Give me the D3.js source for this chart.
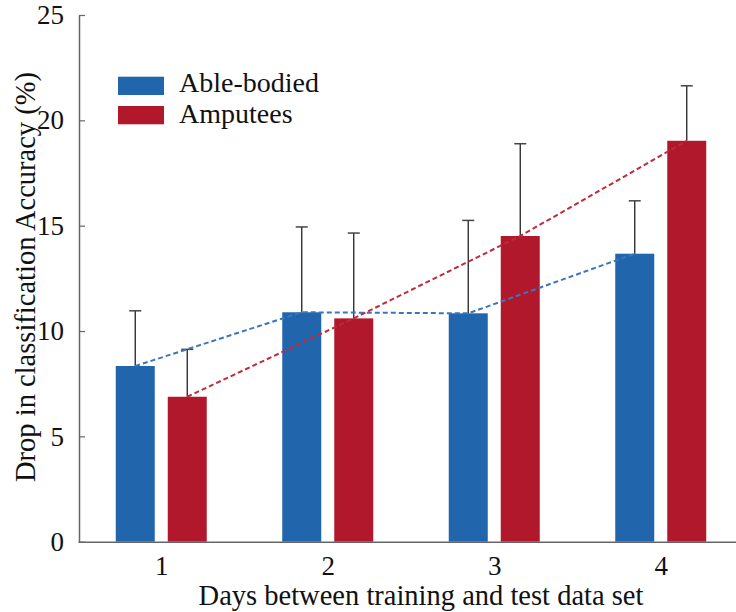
<!DOCTYPE html>
<html><head><meta charset="utf-8">
<script src="https://cdn.jsdelivr.net/npm/d3@7"></script>
<style>body{margin:0;background:#fff;} svg{display:block;} text{font-family:"Liberation Serif","DejaVu Serif",serif;}</style>
</head><body>
<svg id="c" width="736" height="612"></svg>
<script>
const days = [1, 2, 3, 4];
const seriesNames = ["Able-bodied", "Amputees"];
const ableBodied = [8.34, 10.89, 10.84, 13.67];
const ableBodiedErr = [10.96, 14.94, 15.25, 16.18];
const amputees = [6.88, 10.60, 14.51, 19.03];
const amputeesErr = [9.13, 14.65, 18.89, 21.64];
const yTicks = [0, 5, 10, 15, 20, 25];
const colors = ["#2166ac", "#b2182b"];
const lineColors = ["#3a76bd", "#c02a3c"];

const svg = d3.select("#c");
const x = d3.scaleLinear().domain([0.5, 4.5]).range([78, 744]);
const y = d3.scaleLinear().domain([0, 25]).range([541.7, 15]);
const barW = 39, off = 26;

const series = [
  {name: seriesNames[0], vals: ableBodied, err: ableBodiedErr, dx: -off, color: colors[0], lc: lineColors[0]},
  {name: seriesNames[1], vals: amputees, err: amputeesErr, dx: off, color: colors[1], lc: lineColors[1]}
];

series.forEach(s => {
  svg.append("g").selectAll("rect").data(days).join("rect")
    .attr("x", (d,i) => x(d) + s.dx - barW/2)
    .attr("y", (d,i) => y(s.vals[i]))
    .attr("width", barW)
    .attr("height", (d,i) => y(0) - y(s.vals[i]))
    .attr("fill", s.color);
});
series.forEach(s => {
  const g = svg.append("g");
  days.forEach((d,i) => {
    const cx = x(d) + s.dx;
    g.append("line").attr("x1", cx).attr("x2", cx).attr("y1", y(s.vals[i])).attr("y2", y(s.err[i]))
      .attr("stroke", "#222").attr("stroke-width", 1.3);
    g.append("line").attr("x1", cx-6).attr("x2", cx+6).attr("y1", y(s.err[i])).attr("y2", y(s.err[i]))
      .attr("stroke", "#444").attr("stroke-width", 1.5);
  });
});
series.forEach(s => {
  const line = d3.line().x((d,i) => x(d) + s.dx).y((d,i) => y(s.vals[i]));
  svg.append("path").datum(days).attr("d", line).attr("fill", "none")
    .attr("stroke", s.lc).attr("stroke-width", 2).attr("stroke-dasharray", "5,3");
});

const yAxis = d3.axisLeft(y).tickValues(yTicks).tickSizeInner(-6).tickSizeOuter(0).tickPadding(15);
const gy = svg.append("g").attr("transform", "translate(79,0)").call(yAxis);
gy.attr("font-family", null);
gy.select(".domain").attr("stroke", "#666").attr("stroke-width", 1.5);
gy.selectAll(".tick line").attr("stroke", "#666").attr("stroke-width", 1.2);
gy.selectAll("text").attr("font-size", 27).attr("fill", "#111");

const xAxis = d3.axisBottom(x).tickValues(days).tickSize(0).tickPadding(14).tickFormat(d3.format("d"));
const gx = svg.append("g").attr("transform", `translate(0,${y(0)})`).call(xAxis);
gx.attr("font-family", null);
gx.select(".domain").attr("stroke", "#666").attr("stroke-width", 1.5);
gx.selectAll("text").attr("font-size", 27).attr("fill", "#111");

svg.append("text").attr("x", 421).attr("y", 605).attr("text-anchor", "middle")
  .attr("font-size", 28.5).attr("fill", "#111")
  .text("Days between training and test data set");
svg.append("text").attr("transform", "translate(35,277) rotate(-90)").attr("text-anchor", "middle")
  .attr("font-size", 28.5).attr("fill", "#111")
  .text("Drop in classification Accuracy (%)");

series.forEach((s, i) => {
  const ly = 76.7 + i * 29.3;
  svg.append("rect").attr("x", 118).attr("y", ly).attr("width", 46).attr("height", 18.3).attr("fill", s.color);
  svg.append("text").attr("x", 179).attr("y", 91.7 + i * 31.6)
    .attr("font-size", 28).attr("fill", "#111").text(s.name);
});
</script>
</body></html>
